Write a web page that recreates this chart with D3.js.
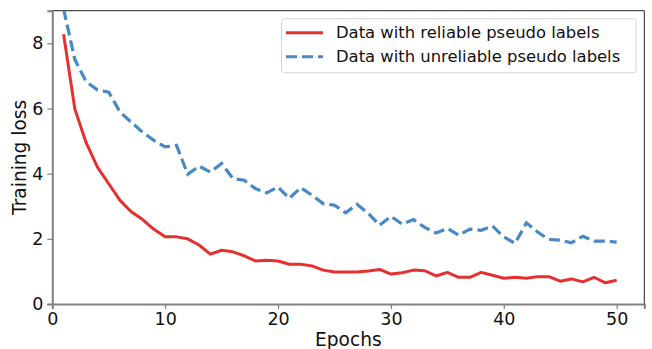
<!DOCTYPE html>
<html><head><meta charset="utf-8">
<script src="https://cdn.jsdelivr.net/npm/d3@7"></script>
<style>body{margin:0;background:#fff}svg{display:block;font-family:"DejaVu Sans",sans-serif}</style>
</head><body><svg id="c" width="652" height="349"></svg>
<script>
const epochs = d3.range(1, 51);
const reliable = [8.28,5.98,4.95,4.20,3.69,3.18,2.83,2.59,2.29,2.06,2.06,2.00,1.81,1.53,1.65,1.60,1.48,1.32,1.34,1.32,1.22,1.22,1.17,1.04,0.98,0.98,0.98,1.01,1.06,0.92,0.96,1.04,1.02,0.86,0.97,0.82,0.82,0.97,0.88,0.79,0.82,0.79,0.84,0.84,0.70,0.77,0.68,0.82,0.65,0.73];
const unreliable = [9.05,7.50,6.82,6.57,6.50,5.89,5.58,5.27,5.02,4.82,4.87,3.98,4.23,4.05,4.31,3.85,3.80,3.54,3.41,3.59,3.24,3.57,3.34,3.08,3.03,2.80,3.06,2.78,2.42,2.69,2.45,2.59,2.35,2.18,2.32,2.11,2.30,2.26,2.39,2.06,1.86,2.49,2.21,1.98,1.96,1.88,2.08,1.93,1.93,1.90];
const xTicks = [0,10,20,30,40,50];
const yTicks = [0,2,4,6,8];
const seriesNames = ["Data with reliable pseudo labels","Data with unreliable pseudo labels"];

const svg = d3.select("#c");
const L = 52.3, R = 644.3, T = 10.7, B = 304;
const x = d3.scaleLinear().domain([0, 52.45]).range([L, R]);
const y = d3.scaleLinear().domain([0, 9]).range([B, T]);

svg.append("defs").append("clipPath").attr("id","clip")
  .append("rect").attr("x",L).attr("y",T).attr("width",R-L).attr("height",B-T);

// top/right spines
svg.append("line").attr("x1",L).attr("x2",R).attr("y1",T).attr("y2",T).attr("stroke","#222").attr("stroke-width",1);
svg.append("line").attr("x1",R).attr("x2",R).attr("y1",T).attr("y2",B).attr("stroke","#222").attr("stroke-width",1);

const xa = svg.append("g").attr("transform",`translate(0,${B})`)
  .call(d3.axisBottom(x).tickValues(xTicks).tickFormat(d3.format("d")).tickSize(5).tickPadding(4));
const ya = svg.append("g").attr("transform",`translate(${L},0)`)
  .call(d3.axisLeft(y).tickValues(yTicks).tickFormat(d3.format("d")).tickSize(5).tickPadding(4));
[xa, ya].forEach(a => {
  a.select(".domain").attr("stroke","#808080").attr("stroke-width",2);
  a.selectAll(".tick line").attr("stroke","#808080").attr("stroke-width",1.2);
  a.selectAll(".tick text").attr("font-size",17.5).attr("fill","#111").attr("font-family","DejaVu Sans");
});

const line = d3.line().x((d,i)=>x(epochs[i])).y(d=>y(d));
const g = svg.append("g").attr("clip-path","url(#clip)");
g.append("path").datum(reliable).attr("d",line).attr("fill","none")
  .attr("stroke","#e6302f").attr("stroke-width",3).attr("stroke-linejoin","round");
g.append("path").datum(unreliable).attr("d",line).attr("fill","none")
  .attr("stroke","#4689c6").attr("stroke-width",3.2).attr("stroke-dasharray","11,5");

svg.append("text").attr("x",(L+R)/2).attr("y",345.5).attr("text-anchor","middle")
  .attr("font-size",18.6).attr("fill","#111").text("Epochs");
svg.append("text").attr("transform",`translate(26,${(T+B)/2}) rotate(-90)`).attr("text-anchor","middle")
  .attr("font-size",18.6).attr("fill","#111").text("Training loss");

// legend
const lg = svg.append("g");
lg.append("rect").attr("x",281.5).attr("y",18.7).attr("width",354.5).attr("height",54).attr("rx",3)
  .attr("fill","#fff").attr("fill-opacity",0.85).attr("stroke","#d6d6d6").attr("stroke-width",1);
const cols = ["#e6302f","#4689c6"];
seriesNames.forEach((n,i)=>{
  const yy = 32.7 + i*24;
  lg.append("line").attr("x1",286).attr("x2",323).attr("y1",yy).attr("y2",yy)
    .attr("stroke",cols[i]).attr("stroke-width",3).attr("stroke-dasharray", i? "11,5":null);
  lg.append("text").attr("x",336).attr("y",yy).attr("dy","0.35em").attr("font-size",16.4).attr("fill","#111").text(n);
});
</script></body></html>
